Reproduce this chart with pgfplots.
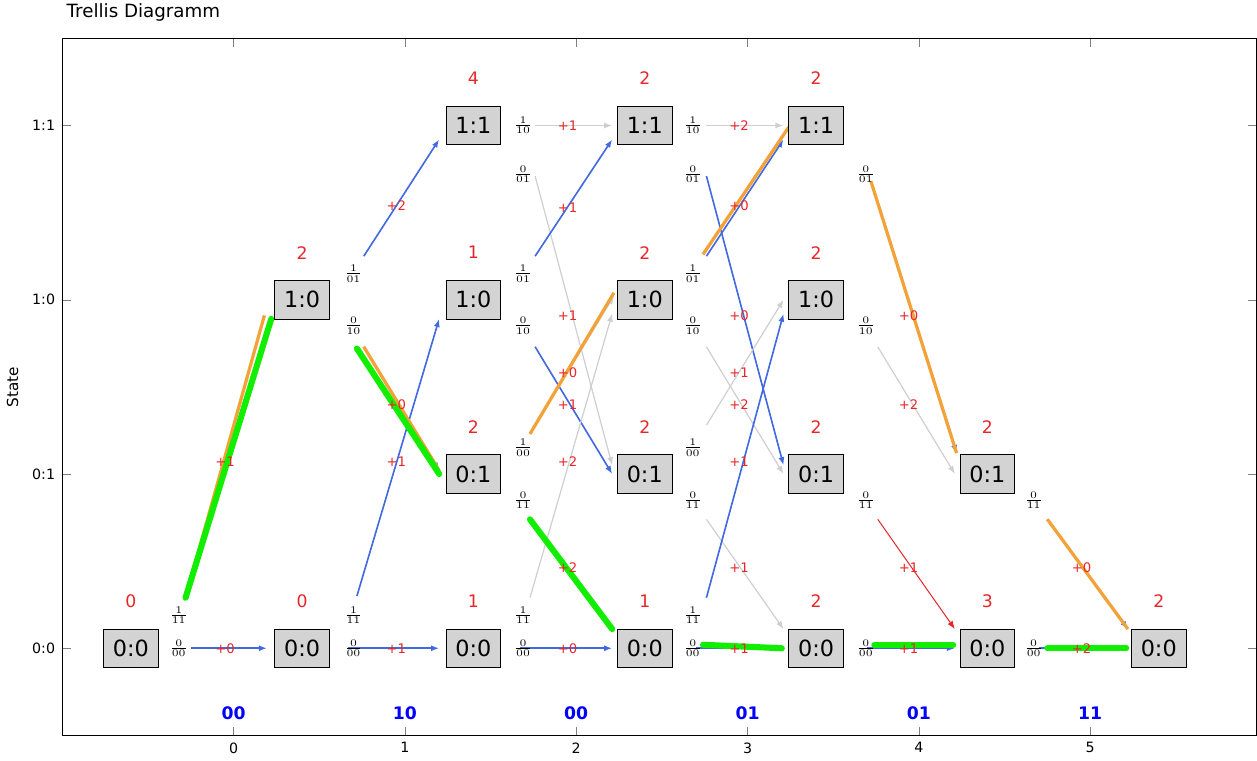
\documentclass[border=0pt]{standalone}
\usepackage{pgfplots}
\pgfplotsset{compat=1.18}
\usepackage{fontspec}
\setmainfont{DejaVu Sans}
\usetikzlibrary{arrows.meta}
\definecolor{rb}{HTML}{4169E1}
\definecolor{lg}{HTML}{CFCFCF}
\definecolor{boxg}{HTML}{D3D3D3}
\definecolor{org}{HTML}{F2A238}
\definecolor{grn}{HTML}{11EE00}
\definecolor{rd}{HTML}{E8262A}
\newcommand\EdG[5]{\addplot[#1] coordinates {(#2,#3) (#4,#5)};}
\newcommand\BoX[3]{\node[draw=black,fill=boxg,minimum width=27pt,minimum height=19pt,inner sep=1pt,font=\fontsize{11}{13}\selectfont] at (axis cs:#1,#2) {#3};}
\newcommand\MeT[3]{\node[text=rd,font=\fontsize{8.5}{10}\selectfont] at (axis cs:#1,#2) {#3};}
\newcommand\BrM[3]{\node[text=rd,font=\fontsize{6.5}{8}\selectfont,inner sep=0pt] at (axis cs:#1,#2) {#3};}
\newcommand\FrC[4]{\node[font=\fontsize{7}{8}\selectfont,inner sep=0pt] at (axis cs:#1,#2) {$\frac{#3}{#4}$};}
\newcommand\InP[2]{\node[text=blue,font=\fontsize{8.5}{10}\selectfont\bfseries] at (axis cs:#1,-0.37) {#2};}
\begin{document}
\begin{tikzpicture}
\begin{axis}[scale only axis, width=588.5pt, height=343.5pt,
  xmin=-1, xmax=5.97, ymin=-0.5, ymax=3.5, clip=false,
  xtick={0,1,2,3,4,5}, ytick={0,1,2,3}, yticklabels={0:0,0:1,1:0,1:1},
  tick label style={font=\fontsize{7}{8}\selectfont},
  /pgf/number format/assume math mode=true,
  ylabel={State}, ylabel style={font=\fontsize{7.5}{9}\selectfont},
  title={Trellis Diagramm}, title style={at={(0,1)},anchor=south west,inner sep=2pt,font=\fontsize{9}{11}\selectfont},
  every axis plot/.append style={no marks},
  axis line style={line width=0.6pt}]
\pgfplotsset{bl/.style={rb,line width=0.8pt,-{Latex[length=4pt,width=3pt]}},
 gy/.style={lg,line width=0.6pt,-{Latex[length=4pt,width=3pt]}},
 rr/.style={rd,line width=0.5pt,-{Latex[length=4pt,width=3pt]}},
 og/.style={org,line width=1.6pt},
 gn/.style={grn,line width=3pt,line cap=round}}
% step 0
\EdG{bl}{-0.25}{0}{0.195}{0}
\EdG{bl}{-0.28}{0.29}{0.22}{1.89}
% step 1
\EdG{bl}{0.67}{0}{1.2}{0}
\EdG{bl}{0.72}{0.30}{1.2}{1.89}
\EdG{bl}{0.76}{2.25}{1.2}{2.92}
\EdG{bl}{0.76}{1.73}{1.2}{1.02}
% step 2
\EdG{gy}{1.76}{3.0}{2.21}{3.0}
\EdG{gy}{1.76}{2.71}{2.21}{1.05}
\EdG{bl}{1.76}{2.25}{2.21}{2.92}
\EdG{bl}{1.76}{1.73}{2.21}{1.0}
\EdG{gy}{1.73}{1.23}{2.22}{2.02}
\EdG{gy}{1.73}{0.74}{2.21}{0.11}
\EdG{gy}{1.73}{0.29}{2.21}{1.92}
\EdG{bl}{1.67}{0}{2.21}{0}
% step 3
\EdG{gy}{2.76}{3.0}{3.21}{3.0}
\EdG{bl}{2.76}{2.71}{3.21}{1.05}
\EdG{bl}{2.76}{2.25}{3.21}{2.92}
\EdG{gy}{2.76}{1.73}{3.21}{1.0}
\EdG{gy}{2.76}{1.28}{3.21}{2.0}
\EdG{gy}{2.76}{0.74}{3.21}{0.11}
\EdG{bl}{2.76}{0.29}{3.21}{1.92}
\EdG{bl}{2.70}{0}{3.21}{0}
% step 4
\EdG{bl}{3.72}{2.68}{4.22}{1.12}
\EdG{gy}{3.76}{1.73}{4.21}{1.0}
\EdG{rr}{3.76}{0.74}{4.21}{0.11}
\EdG{bl}{3.70}{0}{4.21}{0}
% step 5
\EdG{bl}{4.75}{0.74}{5.22}{0.11}
\EdG{bl}{4.70}{0}{5.21}{0}
% orange path
\EdG{og}{-0.28}{0.29}{0.18}{1.91}
\EdG{og}{0.76}{1.73}{1.2}{1.02}
\EdG{og}{1.73}{1.23}{2.22}{2.04}
\EdG{og}{2.74}{2.26}{3.24}{2.99}
\EdG{og}{3.72}{2.68}{4.22}{1.12}
\EdG{og}{4.75}{0.74}{5.22}{0.11}
% green path
\EdG{gn}{-0.28}{0.29}{0.22}{1.89}
\EdG{gn}{0.72}{1.72}{1.2}{1.0}
\EdG{gn}{1.73}{0.74}{2.21}{0.11}
\EdG{gn}{2.74}{0.02}{3.2}{0.0}
\EdG{gn}{3.74}{0.02}{4.2}{0.02}
\EdG{gn}{4.75}{0}{5.21}{0}
% boxes
\BoX{-0.6}{0}{0:0}
\BoX{0.4}{0}{0:0}\BoX{0.4}{2}{1:0}
\BoX{1.4}{0}{0:0}\BoX{1.4}{1}{0:1}\BoX{1.4}{2}{1:0}\BoX{1.4}{3}{1:1}
\BoX{2.4}{0}{0:0}\BoX{2.4}{1}{0:1}\BoX{2.4}{2}{1:0}\BoX{2.4}{3}{1:1}
\BoX{3.4}{0}{0:0}\BoX{3.4}{1}{0:1}\BoX{3.4}{2}{1:0}\BoX{3.4}{3}{1:1}
\BoX{4.4}{0}{0:0}\BoX{4.4}{1}{0:1}
\BoX{5.4}{0}{0:0}
% metrics
\MeT{-0.6}{0.27}{0}
\MeT{0.4}{0.27}{0}\MeT{0.4}{2.27}{2}
\MeT{1.4}{0.27}{1}\MeT{1.4}{1.27}{2}\MeT{1.4}{2.27}{1}\MeT{1.4}{3.27}{4}
\MeT{2.4}{0.27}{1}\MeT{2.4}{1.27}{2}\MeT{2.4}{2.27}{2}\MeT{2.4}{3.27}{2}
\MeT{3.4}{0.27}{2}\MeT{3.4}{1.27}{2}\MeT{3.4}{2.27}{2}\MeT{3.4}{3.27}{2}
\MeT{4.4}{0.27}{3}\MeT{4.4}{1.27}{2}
\MeT{5.4}{0.27}{2}
% branch metrics
\BrM{-0.05}{0}{+0}\BrM{-0.05}{1.07}{+1}
\BrM{0.95}{0}{+1}\BrM{0.95}{1.07}{+1}\BrM{0.95}{2.54}{+2}\BrM{0.95}{1.40}{+0}
\BrM{1.95}{3.0}{+1}\BrM{1.95}{2.53}{+1}\BrM{1.95}{1.91}{+1}\BrM{1.95}{1.58}{+0}\BrM{1.95}{1.40}{+1}\BrM{1.95}{1.07}{+2}\BrM{1.95}{0.46}{+2}\BrM{1.95}{0}{+0}
\BrM{2.95}{3.0}{+2}\BrM{2.95}{2.54}{+0}\BrM{2.95}{1.91}{+0}\BrM{2.95}{1.58}{+1}\BrM{2.95}{1.40}{+2}\BrM{2.95}{1.07}{+1}\BrM{2.95}{0.46}{+1}\BrM{2.95}{0}{+1}
\BrM{3.94}{1.91}{+0}\BrM{3.94}{1.40}{+2}\BrM{3.94}{0.46}{+1}\BrM{3.94}{0}{+1}
\BrM{4.95}{0.46}{+0}\BrM{4.95}{0}{+2}
% fractions
\FrC{-0.32}{0.19}{1}{11}\FrC{-0.32}{0}{0}{00}
\FrC{0.70}{0.19}{1}{11}\FrC{0.70}{0}{0}{00}\FrC{0.70}{2.15}{1}{01}\FrC{0.70}{1.85}{0}{10}
\FrC{1.69}{0.19}{1}{11}\FrC{1.69}{0}{0}{00}\FrC{1.69}{2.15}{1}{01}\FrC{1.69}{1.85}{0}{10}
\FrC{1.69}{1.15}{1}{00}\FrC{1.69}{0.85}{0}{11}\FrC{1.69}{3.0}{1}{10}\FrC{1.69}{2.72}{0}{01}
\FrC{2.68}{0.19}{1}{11}\FrC{2.68}{0}{0}{00}\FrC{2.68}{2.15}{1}{01}\FrC{2.68}{1.85}{0}{10}
\FrC{2.68}{1.15}{1}{00}\FrC{2.68}{0.85}{0}{11}\FrC{2.68}{3.0}{1}{10}\FrC{2.68}{2.72}{0}{01}
\FrC{3.69}{0}{0}{00}\FrC{3.69}{1.85}{0}{10}\FrC{3.69}{0.85}{0}{11}\FrC{3.69}{2.72}{0}{01}
\FrC{4.67}{0}{0}{00}\FrC{4.67}{0.85}{0}{11}
% inputs
\InP{0}{00}\InP{1}{10}\InP{2}{00}\InP{3}{01}\InP{4}{01}\InP{5}{11}
\end{axis}
\end{tikzpicture}
\end{document}
